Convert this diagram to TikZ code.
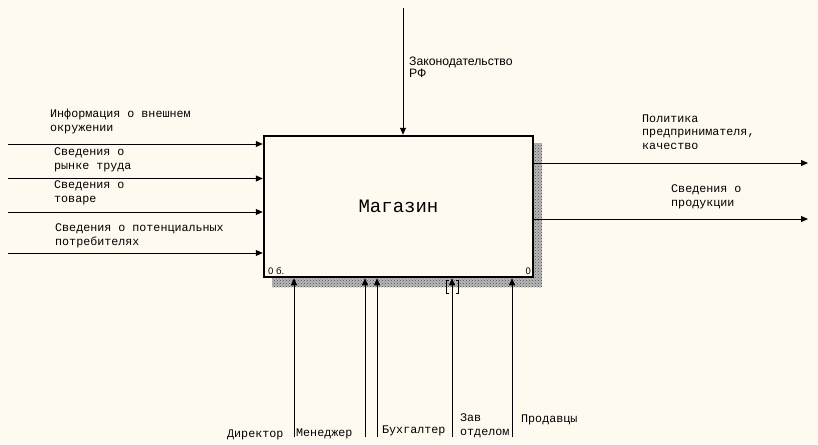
\documentclass[tikz,border=0pt]{standalone}
\usepackage{fontspec}
\usetikzlibrary{arrows.meta,patterns}
\newfontfamily\courf{Liberation Mono}
\newfontfamily\arif{Liberation Sans}
\definecolor{bgc}{HTML}{FFFAEF}
\tikzset{
  conn/.style={line width=1pt,-{Triangle[length=7pt,width=6pt]}},
  lbl/.style={anchor=base west,inner sep=0pt,align=left,font=\courf\fontsize{11.7}{13.5}\selectfont},
  slbl/.style={anchor=base west,inner sep=0pt,align=left,font=\arif\fontsize{12.2}{12}\selectfont},
  corner/.style={inner sep=0pt,font=\arif\fontsize{9.5}{10}\selectfont},
  boxst/.style={draw,line width=2.5pt,fill=bgc,minimum width=269pt,minimum height=141pt,inner sep=0pt,font=\courf\fontsize{19}{22}\selectfont},
}
\begin{document}
\begin{tikzpicture}[x=1pt,y=-1pt]
\fill[bgc] (0,0) rectangle (818,444);
\useasboundingbox (0,0) rectangle (818,444);
% shadow
\fill[black!28] (272,143) rectangle (542,287);
\fill[pattern=crosshatch dots,pattern color=black!70] (272,143) rectangle (542,287);
\node[boxst] (box) at (398.5,206.5) {Магазин};
\node[corner,anchor=base west] (n0) at (268,274) {0 б.};
\node[corner,anchor=base east] (n1) at (531,274) {0};
% inputs
\coordinate (i1) at (8,144);
\coordinate (i2) at (8,178.5);
\coordinate (i3) at (8,212);
\coordinate (i4) at (8,253);
\draw[conn] (i1) -- (box.west |- i1);
\draw[conn] (i2) -- (box.west |- i2);
\draw[conn] (i3) -- (box.west |- i3);
\draw[conn] (i4) -- (box.west |- i4);
\node[lbl] (li1) at (50,131) {Информация о внешнем\\окружении};
\node[lbl] (li2) at (54,169) {Сведения о\\рынке труда};
\node[lbl] (li3) at (54,202) {Сведения о\\товаре};
\node[lbl] (li4) at (55,245) {Сведения о потенциальных\\потребителях};
% control
\coordinate (c1) at (403,8);
\draw[conn] (c1) -- (box.north -| c1);
\node[slbl] (lc1) at (409,77) {Законодательство\\РФ};
% outputs
\coordinate (o1) at (808,163);
\coordinate (o2) at (808,219);
\draw[conn] (box.east |- o1) -- (o1);
\draw[conn] (box.east |- o2) -- (o2);
\node[lbl] (lo1) at (642,149) {Политика\\предпринимателя,\\качество};
\node[lbl] (lo2) at (671,206) {Сведения о\\продукции};
% mechanisms
\coordinate (m1) at (294,437);
\coordinate (m2) at (365,437);
\coordinate (m3) at (377,437);
\coordinate (m4) at (452,437);
\coordinate (m5) at (512,437);
\draw[conn] (m1) -- (box.south -| m1);
\draw[conn] (m2) -- (box.south -| m2);
\draw[conn] (m3) -- (box.south -| m3);
\draw[conn] (m4) -- (box.south -| m4);
\draw[conn] (m5) -- (box.south -| m5);
\draw[line width=1pt] (449,280.5) -- (446.5,280.5) -- (446.5,293) -- (449,293);
\draw[line width=1pt] (456,280.5) -- (458.5,280.5) -- (458.5,293) -- (456,293);
\node[lbl] (lm1) at (227,437) {Директор};
\node[lbl] (lm2) at (296,436) {Менеджер};
\node[lbl] (lm3) at (382,433) {Бухгалтер};
\node[lbl] (lm4) at (460,435) {Зав\\отделом};
\node[lbl] (lm5) at (521,422) {Продавцы};
\end{tikzpicture}
\end{document}
